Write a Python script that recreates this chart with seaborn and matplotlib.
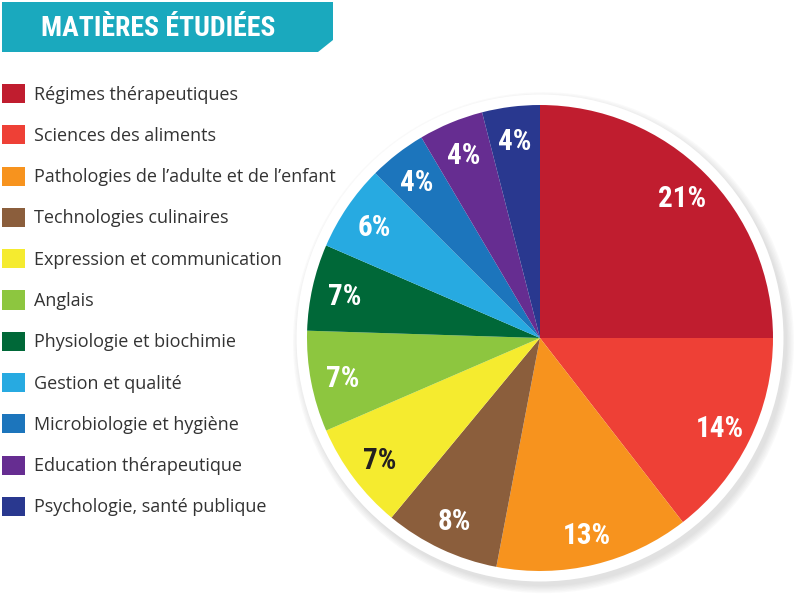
import matplotlib
matplotlib.use('agg')
import matplotlib.pyplot as plt
from matplotlib import font_manager
from matplotlib.patches import Circle, Polygon
import seaborn as sns

TITLE = 'MATIÈRES ÉTUDIÉES'

SUBJECTS = [
    'Régimes thérapeutiques',
    'Sciences des aliments',
    'Pathologies de l\u2019adulte et de l\u2019enfant',
    'Technologies culinaires',
    'Expression et communication',
    'Anglais',
    'Physiologie et biochimie',
    'Gestion et qualité',
    'Microbiologie et hygiène',
    'Education thérapeutique',
    'Psychologie, santé publique',
]

# wedge sizes as drawn in the picture (the printed labels are below)
SHARES = [25, 14.5, 13.5, 8, 7.5, 7, 6, 6, 4, 4.5, 4]
PCT_LABELS = ['21%', '14%', '13%', '8%', '7%', '7%', '7%', '6%', '4%', '4%', '4%']

COLORS = ['#c01d2f', '#ee4036', '#f7931e', '#8b5e3c', '#f5eb2f', '#8dc63f',
          '#006838', '#27aae1', '#1c75bc', '#662d91', '#29388f']
LABEL_COLORS = ['white'] * 4 + ['#231f20'] + ['white'] * 6

TEAL = '#1aa9be'

sns.set_theme(style='white')
plt.rcParams['font.family'] = ['Open Sans', 'DejaVu Sans']

# pick a condensed face if one is installed
_names = {f.name for f in font_manager.fontManager.ttflist}
NARROW = [f for f in ['Roboto Condensed', 'Liberation Sans Narrow', 'Open Sans Condensed']
          if f in _names] + ['Roboto', 'DejaVu Sans']

W, H = 800, 595
fig = plt.figure(figsize=(W / 100, H / 100), dpi=100)
fig.patch.set_facecolor('white')

# pie axes placed in pixels
cx, cy, r = 540, 338, 233
half = 1.1 * r
ax = fig.add_axes([(cx - half) / W, (H - cy - half) / H, 2 * half / W, 2 * half / H])

# soft shadow + white ring
for k in range(6):
    ax.add_patch(Circle((0.015, -0.02), 1.075 - k * 0.006, color='#9a9a9a',
                        alpha=0.05, lw=0, zorder=0))
ax.add_patch(Circle((0, 0), 1.045, color='white', lw=0, zorder=0.5))

wedges, texts = ax.pie(SHARES, colors=COLORS, startangle=90, counterclock=False,
                       labels=PCT_LABELS, labeldistance=0.86,
                       wedgeprops=dict(linewidth=0))
for t, c in zip(texts, LABEL_COLORS):
    t.set_ha('center')
    t.set_va('center_baseline')
    t.set_color(c)
    t.set_fontsize(21)
    t.set_fontweight('bold')
    t.set_family(NARROW)

ax.set_xlim(-1.1, 1.1)
ax.set_ylim(-1.1, 1.1)
ax.axis('off')

# legend
leg = fig.legend(wedges, SUBJECTS, loc='upper left', bbox_to_anchor=(2 / W, 1 - 84 / H),
                 frameon=False, fontsize=13, handlelength=1.25, handleheight=1.25,
                 handletextpad=0.55, labelspacing=1.2, borderpad=0, borderaxespad=0)
for t in leg.get_texts():
    t.set_color('#333333')

# title banner
pts = [(2, 2), (333, 2), (333, 40), (318, 52), (2, 52)]
banner = Polygon([(x / W, 1 - y / H) for x, y in pts], closed=True,
                 transform=fig.transFigure, facecolor=TEAL, edgecolor='none')
fig.add_artist(banner)
fig.text(158 / W, 1 - 29 / H, TITLE, ha='center', va='center', color='white',
         fontsize=20, fontweight='bold', family=NARROW)

fig.savefig('out.png', dpi=100, facecolor='white')
